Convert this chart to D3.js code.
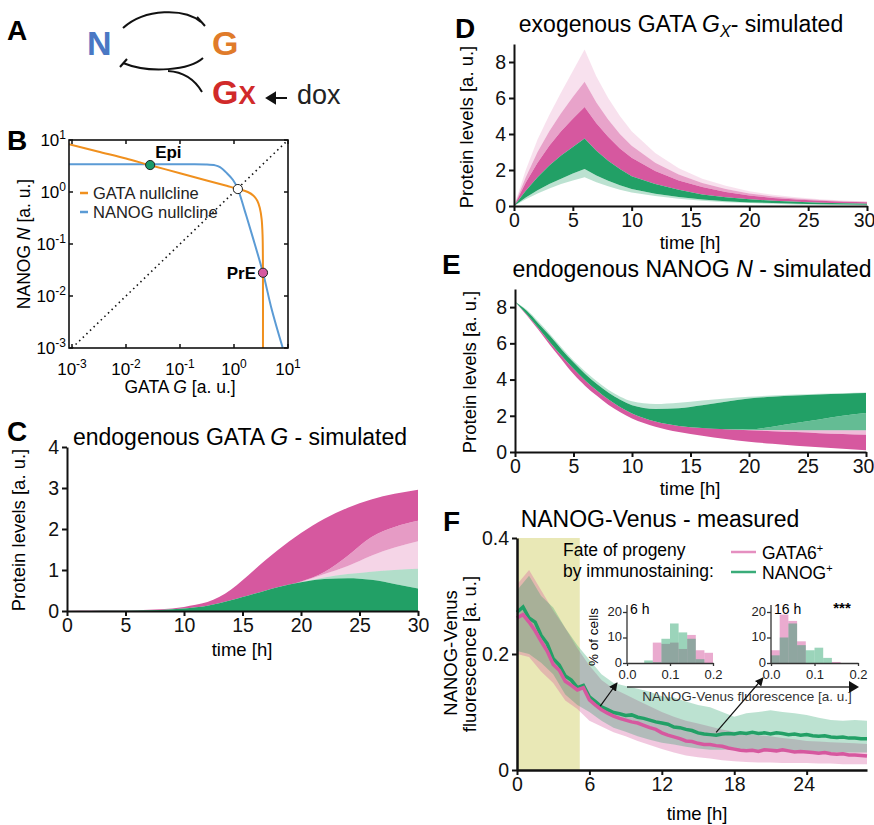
<!DOCTYPE html>
<html>
<head>
<meta charset="utf-8">
<title>NANOG / GATA simulations</title>
<script src="https://d3js.org/d3.v7.min.js"></script>
<style>
  body { margin: 0; background: #fff; }
  svg { font-family: "Liberation Sans", Arial, Helvetica, sans-serif; }
</style>
</head>
<body>
<svg id="fig" width="874" height="825"></svg>
<script>

// ---- B: nullclines (GATA G, NANOG N) ----
var gataNullG = [0.0008, 0.003, 0.01, 0.027, 0.1, 0.3, 0.7, 1.2, 1.8, 2.3, 2.7, 3.0, 3.25, 3.38, 3.43, 3.44];
var gataNullN = [8.5, 6.0, 4.4, 3.3, 2.3, 1.68, 1.33, 1.14, 1.0, 0.85, 0.68, 0.5, 0.3, 0.15, 0.05, 0.0008];
var nanogNullG = [0.0008, 0.1, 0.3, 0.45, 0.55, 0.74, 0.96, 1.18, 1.6, 2.2, 3.44, 5.0, 8.0];
var nanogNullN = [3.4, 3.4, 3.38, 3.25, 3.0, 2.3, 1.7, 1.14, 0.42, 0.14, 0.028, 0.0055, 0.001];
var fixedPoints = [
  {name: "Epi", G: 0.028, N: 3.3},
  {name: "saddle", G: 1.18, N: 1.14},
  {name: "PrE", G: 3.44, N: 0.028}
];
var logTicks = [-3, -2, -1, 0, 1];

// ---- C: endogenous GATA G, ensemble envelopes ----
var tC = [0, 2, 4, 6, 8, 10, 11, 12, 13, 14, 15, 16, 17, 18, 20, 22, 24, 26, 28, 30];
var cGreenHi  = [0, 0.003, 0.006, 0.012, 0.025, 0.06, 0.09, 0.13, 0.19, 0.26, 0.34, 0.42, 0.5, 0.58, 0.7, 0.78, 0.8, 0.76, 0.66, 0.55];
var cGreenMax = [0, 0.003, 0.006, 0.012, 0.025, 0.06, 0.09, 0.13, 0.19, 0.26, 0.34, 0.42, 0.5, 0.58, 0.71, 0.82, 0.9, 0.96, 1.0, 1.03];
var cPinkMid  = [0, 0.003, 0.006, 0.012, 0.025, 0.06, 0.09, 0.13, 0.19, 0.26, 0.34, 0.42, 0.5, 0.58, 0.71, 0.9, 1.1, 1.35, 1.55, 1.7];
var cPinkLo   = [0, 0.003, 0.006, 0.012, 0.025, 0.06, 0.09, 0.13, 0.19, 0.26, 0.34, 0.42, 0.5, 0.58, 0.72, 0.95, 1.35, 1.8, 2.05, 2.2];
var cPinkMax  = [0, 0.005, 0.01, 0.02, 0.04, 0.1, 0.15, 0.22, 0.34, 0.52, 0.75, 1.0, 1.25, 1.48, 1.9, 2.25, 2.52, 2.72, 2.86, 2.96];

// ---- D: exogenous GATA Gx ----
var tD = [0, 1, 2, 3, 4, 5, 6, 7, 8, 9, 10, 12, 14, 16, 18, 20, 22, 24, 26, 28, 30];
var dGreenMin = [0, 0.37, 0.7, 0.97, 1.22, 1.42, 1.6, 1.32, 1.1, 0.9, 0.75, 0.55, 0.4, 0.29, 0.21, 0.16, 0.12, 0.09, 0.07, 0.06, 0.05];
var dGreenLo  = [0, 0.47, 0.88, 1.22, 1.52, 1.8, 2.05, 1.7, 1.4, 1.15, 0.94, 0.68, 0.5, 0.36, 0.27, 0.2, 0.16, 0.12, 0.1, 0.08, 0.07];
var dGreenHi  = [0, 0.85, 1.6, 2.25, 2.8, 3.28, 3.75, 3.07, 2.51, 2.06, 1.65, 1.22, 0.9, 0.64, 0.48, 0.37, 0.29, 0.23, 0.18, 0.15, 0.12];
var dPinkHi   = [0, 1.3, 2.4, 3.35, 4.15, 4.85, 5.5, 4.6, 3.85, 3.2, 2.68, 1.95, 1.42, 1.05, 0.78, 0.58, 0.45, 0.36, 0.29, 0.24, 0.21];
var dPinkMid  = [0, 1.6, 3.0, 4.15, 5.15, 6.05, 6.9, 5.75, 4.8, 4.0, 3.35, 2.4, 1.75, 1.28, 0.95, 0.7, 0.53, 0.42, 0.33, 0.27, 0.23];
var dPinkMax  = [0, 2.0, 3.7, 5.05, 6.3, 7.5, 8.7, 7.2, 6.0, 5.0, 4.15, 2.95, 2.1, 1.52, 1.12, 0.82, 0.62, 0.48, 0.38, 0.3, 0.25];

// ---- E: endogenous NANOG N ----
var tE = [0, 1, 2, 3, 4, 5, 6, 7, 8, 9, 10, 12, 14, 16, 18, 20, 22, 24, 26, 28, 30];
var ePinkMin  = [8.3, 7.55, 6.75, 5.9, 5.1, 4.3, 3.65, 3.1, 2.6, 2.2, 1.85, 1.4, 1.1, 0.9, 0.72, 0.57, 0.45, 0.35, 0.26, 0.18, 0.1];
var ePinkHi   = [8.3, 7.6, 6.85, 6.05, 5.3, 4.6, 3.95, 3.4, 2.9, 2.47, 2.12, 1.68, 1.44, 1.32, 1.26, 1.2, 1.15, 1.1, 1.04, 1.0, 0.95];
var eGreenMin = [8.3, 7.6, 6.85, 6.05, 5.3, 4.6, 3.95, 3.4, 2.9, 2.47, 2.12, 1.68, 1.44, 1.32, 1.26, 1.22, 1.21, 1.2, 1.2, 1.2, 1.2];
var eGreenLo  = [8.3, 7.6, 6.85, 6.05, 5.3, 4.6, 3.95, 3.4, 2.9, 2.47, 2.12, 1.68, 1.44, 1.32, 1.26, 1.25, 1.4, 1.6, 1.8, 2.0, 2.15];
var eGreenHi  = [8.3, 7.8, 7.1, 6.4, 5.65, 4.95, 4.3, 3.75, 3.27, 2.88, 2.58, 2.38, 2.42, 2.58, 2.78, 2.95, 3.05, 3.12, 3.18, 3.22, 3.26];
var eGreenMax = [8.3, 7.85, 7.2, 6.5, 5.75, 5.05, 4.45, 3.9, 3.42, 3.05, 2.8, 2.65, 2.72, 2.84, 2.96, 3.05, 3.12, 3.17, 3.22, 3.25, 3.28];

// ---- F: NANOG-Venus measured (means every 0.5 h, bands every 1 h) ----
var fGreenMean = [0.272,0.281,0.262,0.255,0.232,0.218,0.192,0.181,0.162,0.155,
  0.142,0.146,0.126,0.118,0.109,0.104,0.099,0.097,0.094,0.095,
  0.091,0.089,0.086,0.083,0.081,0.079,0.074,0.073,0.070,0.068,
  0.064,0.062,0.061,0.060,0.062,0.063,0.062,0.064,0.063,0.065,
  0.063,0.064,0.062,0.064,0.063,0.061,0.062,0.060,0.061,0.059,
  0.058,0.059,0.057,0.056,0.057,0.055,0.055,0.054,0.054];
var fPinkMean = [0.262,0.268,0.255,0.240,0.222,0.205,0.182,0.172,0.153,0.146,
  0.138,0.142,0.121,0.112,0.104,0.098,0.093,0.089,0.086,0.083,
  0.081,0.077,0.073,0.070,0.064,0.060,0.057,0.054,0.050,0.049,
  0.046,0.044,0.044,0.042,0.041,0.038,0.036,0.034,0.033,0.034,
  0.032,0.035,0.034,0.033,0.035,0.033,0.031,0.032,0.031,0.030,
  0.029,0.030,0.028,0.027,0.028,0.026,0.026,0.025,0.024];
var fGreenUp = [0.31,0.335,0.3,0.28,0.245,0.215,0.19,0.165,0.15,0.145,0.14,0.135,0.127,0.125,0.118,0.112,0.108,0.1,0.092,0.098,0.1,0.103,0.1,0.098,0.095,0.09,0.086,0.085,0.086,0.085];
var fGreenLow = [0.205,0.2,0.185,0.165,0.13,0.112,0.1,0.085,0.073,0.066,0.058,0.052,0.047,0.044,0.04,0.037,0.035,0.035,0.036,0.034,0.033,0.033,0.032,0.032,0.031,0.031,0.03,0.03,0.03,0.03];
var fPinkUp = [0.32,0.345,0.31,0.275,0.245,0.21,0.18,0.155,0.14,0.13,0.12,0.11,0.1,0.092,0.085,0.08,0.075,0.07,0.066,0.062,0.06,0.058,0.055,0.053,0.05,0.049,0.048,0.047,0.046,0.045];
var fPinkLow = [0.2,0.195,0.17,0.15,0.12,0.105,0.085,0.075,0.065,0.058,0.05,0.043,0.036,0.03,0.025,0.022,0.02,0.017,0.015,0.014,0.013,0.013,0.012,0.012,0.012,0.011,0.011,0.01,0.01,0.01];
var doxEnd = 5.2;

// inset histograms (% of cells, bin width 0.02)
var hist6Edges = [0.04, 0.06, 0.08, 0.10, 0.12, 0.14, 0.16, 0.18];
var hist6Pink  = [0, 8, 7.5, 8, 5.5, 11, 5, 4];
var hist6Green = [1, 0.3, 9.5, 15.5, 12, 9.5, 1.5, 0];
var hist16Edges = [0, 0.02, 0.04, 0.06, 0.08, 0.10, 0.12, 0.14];
var hist16Pink  = [5, 19, 16.5, 8.5, 0, 0, 0, 0.4];
var hist16Green = [3, 10, 15.5, 7, 5, 6, 2, 0];

var PINK = "#d6589f", GREEN = "#22a066";
var svg = d3.select("#fig");

function letter(x, y, t) {
  svg.append("text").attr("x", x).attr("y", y).attr("font-size", 28)
    .attr("font-weight", "bold").text(t);
}

// text with italic / sub parts: parts = [[text, style]]
function richText(sel, parts, size) {
  parts.forEach(function(p) {
    var ts = sel.append("tspan").text(p[0]);
    if (p[1] == "i") ts.attr("font-style", "italic");
    if (p[1] == "sub") ts.attr("font-style", "italic").attr("font-size", size * 0.7).attr("dy", 5);
    if (p[1] == "after") ts.attr("dy", -5);
  });
  return sel;
}

function band(g, x, y, t, lo, hi, color, op, curve) {
  var area = d3.area()
    .x(function(d, i) { return x(t[i]); })
    .y0(function(d, i) { return y(lo[i]); })
    .y1(function(d, i) { return y(hi[i]); })
    .curve(curve || d3.curveMonotoneX);
  g.append("path").datum(t).attr("d", area).attr("fill", color).attr("fill-opacity", op);
}

function axes(g, x, y, xTicks, yTicks, yFmt) {
  var ax = g.append("g").attr("transform", "translate(0," + y.range()[0] + ")")
    .call(d3.axisBottom(x).tickValues(xTicks).tickSize(5).tickPadding(2).tickSizeOuter(0));
  var ay = g.append("g").attr("transform", "translate(" + x.range()[0] + ",0)")
    .call(d3.axisLeft(y).tickValues(yTicks).tickSize(5).tickPadding(3).tickSizeOuter(0)
      .tickFormat(yFmt || d3.format("d")));
  [ax, ay].forEach(function(a) {
    a.attr("font-family", null).attr("font-size", 19.5);
    a.selectAll(".domain, .tick line").attr("stroke", "#111").attr("stroke-width", 2);
    a.selectAll("text").attr("fill", "#111");
  });
  // keep the last x label inside the page
  if (x.range()[1] > 860) ax.selectAll(".tick:last-of-type text").attr("dx", -3);
}

function title(x, y, parts, size) {
  size = size || 23;
  var t = svg.append("text").attr("x", x).attr("y", y).attr("text-anchor", "middle").attr("font-size", size);
  richText(t, parts, size);
}

function ylabel(x, y, parts, size) {
  var t = svg.append("text").attr("transform", "translate(" + x + "," + y + ") rotate(-90)")
    .attr("text-anchor", "middle").attr("font-size", size || 18.5);
  richText(t, parts, size || 18.5);
}

function xlabel(x, y, txt) {
  svg.append("text").attr("x", x).attr("y", y).attr("text-anchor", "middle").attr("font-size", 18.5).text(txt);
}

// ================= A: network =================
(function() {
  letter(7, 40, "A");
  var g = svg.append("g").attr("fill", "none").attr("stroke", "#111").attr("stroke-width", 2);
  g.append("path").attr("d", "M123,28 C145,8 185,8 201,22");
  g.append("path").attr("d", "M197,17 L205,26");
  g.append("path").attr("d", "M203,58 C190,70 150,74 123,63");
  g.append("path").attr("d", "M120,67 L127,59");
  g.append("path").attr("d", "M202,92 C195,80 185,72 168,71");
  g.append("path").attr("d", "M287,98 L272,98");
  g.append("path").attr("d", "M275,93 L267,98 L275,103 Z").attr("fill", "#111");
  svg.append("text").attr("x", 87).attr("y", 55).attr("font-size", 34).attr("font-weight", "bold")
    .attr("fill", "#4a78c4").text("N");
  svg.append("text").attr("x", 212).attr("y", 55).attr("font-size", 34).attr("font-weight", "bold")
    .attr("fill", "#e07b2a").text("G");
  var gx = svg.append("text").attr("x", 212).attr("y", 104).attr("font-size", 34).attr("font-weight", "bold")
    .attr("fill", "#d12a2a");
  gx.append("tspan").text("G");
  gx.append("tspan").attr("font-size", 26).text("X");
  svg.append("text").attr("x", 297).attr("y", 104).attr("font-size", 27).attr("fill", "#222").text("dox");
})();

// ================= B: phase plane =================
(function() {
  letter(7, 150, "B");
  var x = d3.scaleLog().domain([8.8e-4, 10]).range([69, 288]);
  var y = d3.scaleLog().domain([1e-3, 10]).range([348, 140]);
  var g = svg.append("g");
  g.append("clipPath").attr("id", "clipB").append("rect")
    .attr("x", 69).attr("y", 140).attr("width", 219).attr("height", 208);
  var pg = g.append("g").attr("clip-path", "url(#clipB)");
  pg.append("path").attr("d", d3.line()([[x(1e-3), y(1e-3)], [x(10), y(10)]]))
    .attr("stroke", "#111").attr("stroke-width", 1.6).attr("stroke-dasharray", "1.5,3.5").attr("fill", "none");
  pg.append("path").attr("d", d3.line().curve(d3.curveCatmullRom)(nanogNullG.map(function(v, i) { return [x(v), y(nanogNullN[i])]; })))
    .attr("stroke", "#5b9bd5").attr("stroke-width", 2).attr("fill", "none");
  pg.append("path").attr("d", d3.line().curve(d3.curveCatmullRom)(gataNullG.map(function(v, i) { return [x(v), y(gataNullN[i])]; })))
    .attr("stroke", "#f0901e").attr("stroke-width", 2).attr("fill", "none");
  var fpColor = {Epi: "#1a9a6a", saddle: "#fff", PrE: "#d6589f"};
  fixedPoints.forEach(function(p) {
    g.append("circle").attr("cx", x(p.G)).attr("cy", y(p.N)).attr("r", 4.6)
      .attr("fill", fpColor[p.name]).attr("stroke", "#222").attr("stroke-width", 1);
  });
  g.append("text").attr("x", x(0.028) + 5).attr("y", y(3.3) - 7).attr("font-size", 17).attr("font-weight", "bold").text("Epi");
  g.append("text").attr("x", x(3.44) - 7).attr("y", y(0.028) + 6).attr("text-anchor", "end").attr("font-size", 17).attr("font-weight", "bold").text("PrE");
  // frame and inward ticks
  g.append("rect").attr("x", 69).attr("y", 140).attr("width", 219).attr("height", 208)
    .attr("fill", "none").attr("stroke", "#111").attr("stroke-width", 1.6);
  logTicks.forEach(function(e) {
    var v = Math.pow(10, e);
    var tx = x(v), ty = y(v);
    g.append("line").attr("x1", tx).attr("x2", tx).attr("y1", 348).attr("y2", 344).attr("stroke", "#111").attr("stroke-width", 1.5);
    g.append("line").attr("x1", tx).attr("x2", tx).attr("y1", 140).attr("y2", 144).attr("stroke", "#111").attr("stroke-width", 1.5);
    g.append("line").attr("y1", ty).attr("y2", ty).attr("x1", 69).attr("x2", 73).attr("stroke", "#111").attr("stroke-width", 1.5);
    g.append("line").attr("y1", ty).attr("y2", ty).attr("x1", 288).attr("x2", 284).attr("stroke", "#111").attr("stroke-width", 1.5);
    var lx = g.append("text").attr("x", tx).attr("y", 375).attr("text-anchor", "middle").attr("font-size", 17);
    lx.append("tspan").text("10");
    lx.append("tspan").attr("dy", -7).attr("font-size", 12).text(e);
    var ly = g.append("text").attr("x", 66).attr("y", ty + 6).attr("text-anchor", "end").attr("font-size", 17);
    ly.append("tspan").text("10");
    ly.append("tspan").attr("dy", -7).attr("font-size", 12).text(e);
  });
  // legend
  [["GATA nullcline", "#f0901e", 193], ["NANOG nullcline", "#5b9bd5", 212]].forEach(function(l) {
    g.append("line").attr("x1", 80).attr("x2", 88).attr("y1", l[2]).attr("y2", l[2]).attr("stroke", l[1]).attr("stroke-width", 2.5);
    g.append("text").attr("x", 93).attr("y", l[2] + 6).attr("font-size", 16.5).attr("fill", "#222").text(l[0]);
  });
  ylabel(30, 244, [["NANOG "], ["N", "i"], [" [a. u.]"]], 17.5);
  var xl = svg.append("text").attr("x", 180).attr("y", 393).attr("text-anchor", "middle").attr("font-size", 17.5);
  richText(xl, [["GATA "], ["G", "i"], [" [a. u.]"]], 17.5);
})();

// ================= C =================
(function() {
  letter(7, 441, "C");
  var x = d3.scaleLinear().domain([0, 30]).range([67, 418]);
  var y = d3.scaleLinear().domain([0, 4]).range([611, 447]);
  var g = svg.append("g");
  band(g, x, y, tC, cGreenMax, cPinkMid, PINK, 0.25);
  band(g, x, y, tC, cPinkMid, cPinkLo, PINK, 0.6);
  band(g, x, y, tC, cPinkLo, cPinkMax, PINK, 1);
  band(g, x, y, tC, cGreenHi, cGreenMax, GREEN, 0.35);
  band(g, x, y, tC, tC.map(function() { return 0; }), cGreenHi, GREEN, 1);
  axes(g, x, y, [0, 5, 10, 15, 20, 25, 30], [0, 1, 2, 3, 4]);
  title(240, 445, [["endogenous GATA "], ["G", "i"], [" - simulated"]]);
  ylabel(25, 530, [["Protein levels [a. u.]"]]);
  xlabel(242, 656, "time [h]");
})();

// ================= D =================
(function() {
  letter(455, 38, "D");
  var x = d3.scaleLinear().domain([0, 30]).range([514, 867]);
  var y = d3.scaleLinear().domain([0, 9]).range([206, 44]);
  var g = svg.append("g");
  band(g, x, y, tD, dPinkMid, dPinkMax, PINK, 0.18, d3.curveLinear);
  band(g, x, y, tD, dPinkHi, dPinkMid, PINK, 0.55, d3.curveLinear);
  band(g, x, y, tD, dGreenHi, dPinkHi, PINK, 1, d3.curveLinear);
  band(g, x, y, tD, dGreenMin, dGreenLo, GREEN, 0.3, d3.curveLinear);
  band(g, x, y, tD, dGreenLo, dGreenHi, GREEN, 1, d3.curveLinear);
  axes(g, x, y, [0, 5, 10, 15, 20, 25, 30], [0, 2, 4, 6, 8]);
  title(681, 32, [["exogenous GATA "], ["G", "i"], ["X", "sub"], ["- simulated", "after"]]);
  ylabel(473, 127, [["Protein levels [a. u.]"]]);
  xlabel(690, 249, "time [h]");
})();

// ================= E =================
(function() {
  letter(442, 274, "E");
  var x = d3.scaleLinear().domain([0, 30]).range([515, 866]);
  var y = d3.scaleLinear().domain([0, 9]).range([452, 289]);
  var g = svg.append("g");
  band(g, x, y, tE, ePinkMin, ePinkHi, PINK, 1);
  band(g, x, y, tE, ePinkHi, eGreenMin, PINK, 0.4);
  band(g, x, y, tE, eGreenMin, eGreenLo, GREEN, 0.7);
  band(g, x, y, tE, eGreenLo, eGreenHi, GREEN, 1);
  band(g, x, y, tE, eGreenHi, eGreenMax, GREEN, 0.3);
  axes(g, x, y, [0, 5, 10, 15, 20, 25, 30], [0, 2, 4, 6, 8]);
  title(692, 277, [["endogenous NANOG "], ["N", "i"], [" - simulated"]]);
  ylabel(476, 372, [["Protein levels [a. u.]"]]);
  xlabel(690, 495, "time [h]");
})();

// ================= F =================
(function() {
  letter(443, 531, "F");
  var x = d3.scaleLinear().domain([0, 29]).range([517, 867]);
  var y = d3.scaleLinear().domain([0, 0.4]).range([770, 538]);
  var g = svg.append("g");
  g.append("rect").attr("x", x(0)).attr("y", y(0.4)).attr("width", x(doxEnd) - x(0)).attr("height", y(0) - y(0.4))
    .attr("fill", "#e9e8b6");
  var tMean = d3.range(0, 29.01, 0.5);
  var tBand = d3.range(0, 29.01, 1);
  var area = function(lo, hi) {
    return d3.area().x(function(d, i) { return x(tBand[i]); })
      .y0(function(d, i) { return y(lo[i]); }).y1(function(d, i) { return y(hi[i]); })(tBand);
  };
  g.append("path").attr("d", area(fPinkLow, fPinkUp)).attr("fill", PINK).attr("fill-opacity", 0.33);
  g.append("path").attr("d", area(fGreenLow, fGreenUp)).attr("fill", GREEN).attr("fill-opacity", 0.3);
  var line = function(vals) {
    return d3.line().x(function(d, i) { return x(tMean[i]); }).y(function(d) { return y(d); })(vals);
  };
  g.append("path").attr("d", line(fGreenMean)).attr("fill", "none").attr("stroke", GREEN).attr("stroke-width", 3.5);
  g.append("path").attr("d", line(fPinkMean)).attr("fill", "none").attr("stroke", PINK).attr("stroke-width", 3.5);
  axes(g, x, y, [0, 6, 12, 18, 24], [0, 0.2, 0.4], function(d) { return d == 0 ? "0" : d3.format(".1f")(d); });
  g.selectAll(".domain").attr("stroke-width", 2.5);
  title(660, 527, [["NANOG-Venus - measured"]]);
  svg.append("text").attr("transform", "translate(457,653) rotate(-90)").attr("text-anchor", "middle")
    .attr("font-size", 18.5).text("NANOG-Venus");
  svg.append("text").attr("transform", "translate(476,654) rotate(-90)").attr("text-anchor", "middle")
    .attr("font-size", 18.5).text("fluorescence [a. u.]");
  xlabel(697, 820, "time [h]");

  // legend
  svg.append("text").attr("x", 563).attr("y", 556).attr("font-size", 17.5).text("Fate of progeny");
  svg.append("text").attr("x", 563).attr("y", 577).attr("font-size", 17.5).text("by immunostaining:");
  [["GATA6", 552, "#e58fc0"], ["NANOG", 572, "#3aac79"]].forEach(function(l) {
    svg.append("line").attr("x1", 731).attr("x2", 756).attr("y1", l[1]).attr("y2", l[1]).attr("stroke", l[2]).attr("stroke-width", 2.5);
    var t = svg.append("text").attr("x", 762).attr("y", l[1] + 7).attr("font-size", 17.5).text(l[0]);
    t.append("tspan").attr("dy", -7).attr("font-size", 11).text("+");
  });

  // insets
  function inset(x0, x1, edges, pink, green, label) {
    var hx = d3.scaleLinear().domain([0, 0.2]).range([x0, x1]);
    var hy = d3.scaleLinear().domain([0, 20]).range([663, 612]);
    var ig = svg.append("g");
    edges.forEach(function(e, i) {
      ig.append("rect").attr("x", hx(e)).attr("width", hx(0.02) - hx(0)).attr("y", hy(pink[i]))
        .attr("height", hy(0) - hy(pink[i])).attr("fill", PINK).attr("fill-opacity", 0.5);
    });
    edges.forEach(function(e, i) {
      ig.append("rect").attr("x", hx(e)).attr("width", hx(0.02) - hx(0)).attr("y", hy(green[i]))
        .attr("height", hy(0) - hy(green[i])).attr("fill", GREEN).attr("fill-opacity", 0.45);
    });
    var ax = ig.append("g").attr("transform", "translate(0,663)")
      .call(d3.axisBottom(hx).tickValues([0, 0.1, 0.2]).tickFormat(d3.format(".1f")).tickSize(3).tickPadding(4).tickSizeOuter(0));
    var ay = ig.append("g").attr("transform", "translate(" + x0 + ",0)")
      .call(d3.axisLeft(hy).tickValues([0, 10, 20]).tickSize(4).tickPadding(1).tickSizeOuter(0));
    ay.select(".domain").attr("d", "M0,663V605");
    [ax, ay].forEach(function(a) {
      a.attr("font-family", null).attr("font-size", 13);
      a.selectAll(".domain, .tick line").attr("stroke", "#333").attr("stroke-width", 1.3);
      a.selectAll("text").attr("fill", "#222");
    });
    ay.selectAll("text").attr("dy", "0.25em");
    ig.append("text").attr("x", x0 + 3).attr("y", 614).attr("font-size", 14).text(label);
  }
  inset(627, 713, hist6Edges, hist6Pink, hist6Green, "6 h");
  inset(771, 858, hist16Edges, hist16Pink, hist16Green, "16 h");
  svg.append("text").attr("transform", "translate(598,637) rotate(-90)").attr("text-anchor", "middle")
    .attr("font-size", 13.5).text("% of cells");
  svg.append("text").attr("x", 842).attr("y", 613).attr("text-anchor", "middle").attr("font-size", 15)
    .attr("font-weight", "bold").text("***");
  // shared inset axis arrow
  svg.append("line").attr("x1", 627).attr("x2", 852).attr("y1", 687).attr("y2", 687).attr("stroke", "#333").attr("stroke-width", 1.3);
  svg.append("path").attr("d", "M849,681 L859,687 L849,693 Z").attr("fill", "#111");
  svg.append("text").attr("x", 747).attr("y", 701).attr("text-anchor", "middle").attr("font-size", 13.5)
    .attr("fill", "#333").text("NANOG-Venus fluorescence [a. u.]");

  // arrows from curve to insets
  var defs = svg.append("defs");
  defs.append("marker").attr("id", "ah").attr("viewBox", "0 0 10 10").attr("refX", 9).attr("refY", 5)
    .attr("markerWidth", 7).attr("markerHeight", 7).attr("orient", "auto")
    .append("path").attr("d", "M0,0 L10,5 L0,10 Z").attr("fill", "#111");
  [[6.9, 0.11, 617, 683], [16.5, 0.065, 763, 678]].forEach(function(a) {
    svg.append("line").attr("x1", x(a[0])).attr("y1", y(a[1])).attr("x2", a[2]).attr("y2", a[3])
      .attr("stroke", "#111").attr("stroke-width", 1.2).attr("marker-end", "url(#ah)");
  });
})();
</script>
</body>
</html>
